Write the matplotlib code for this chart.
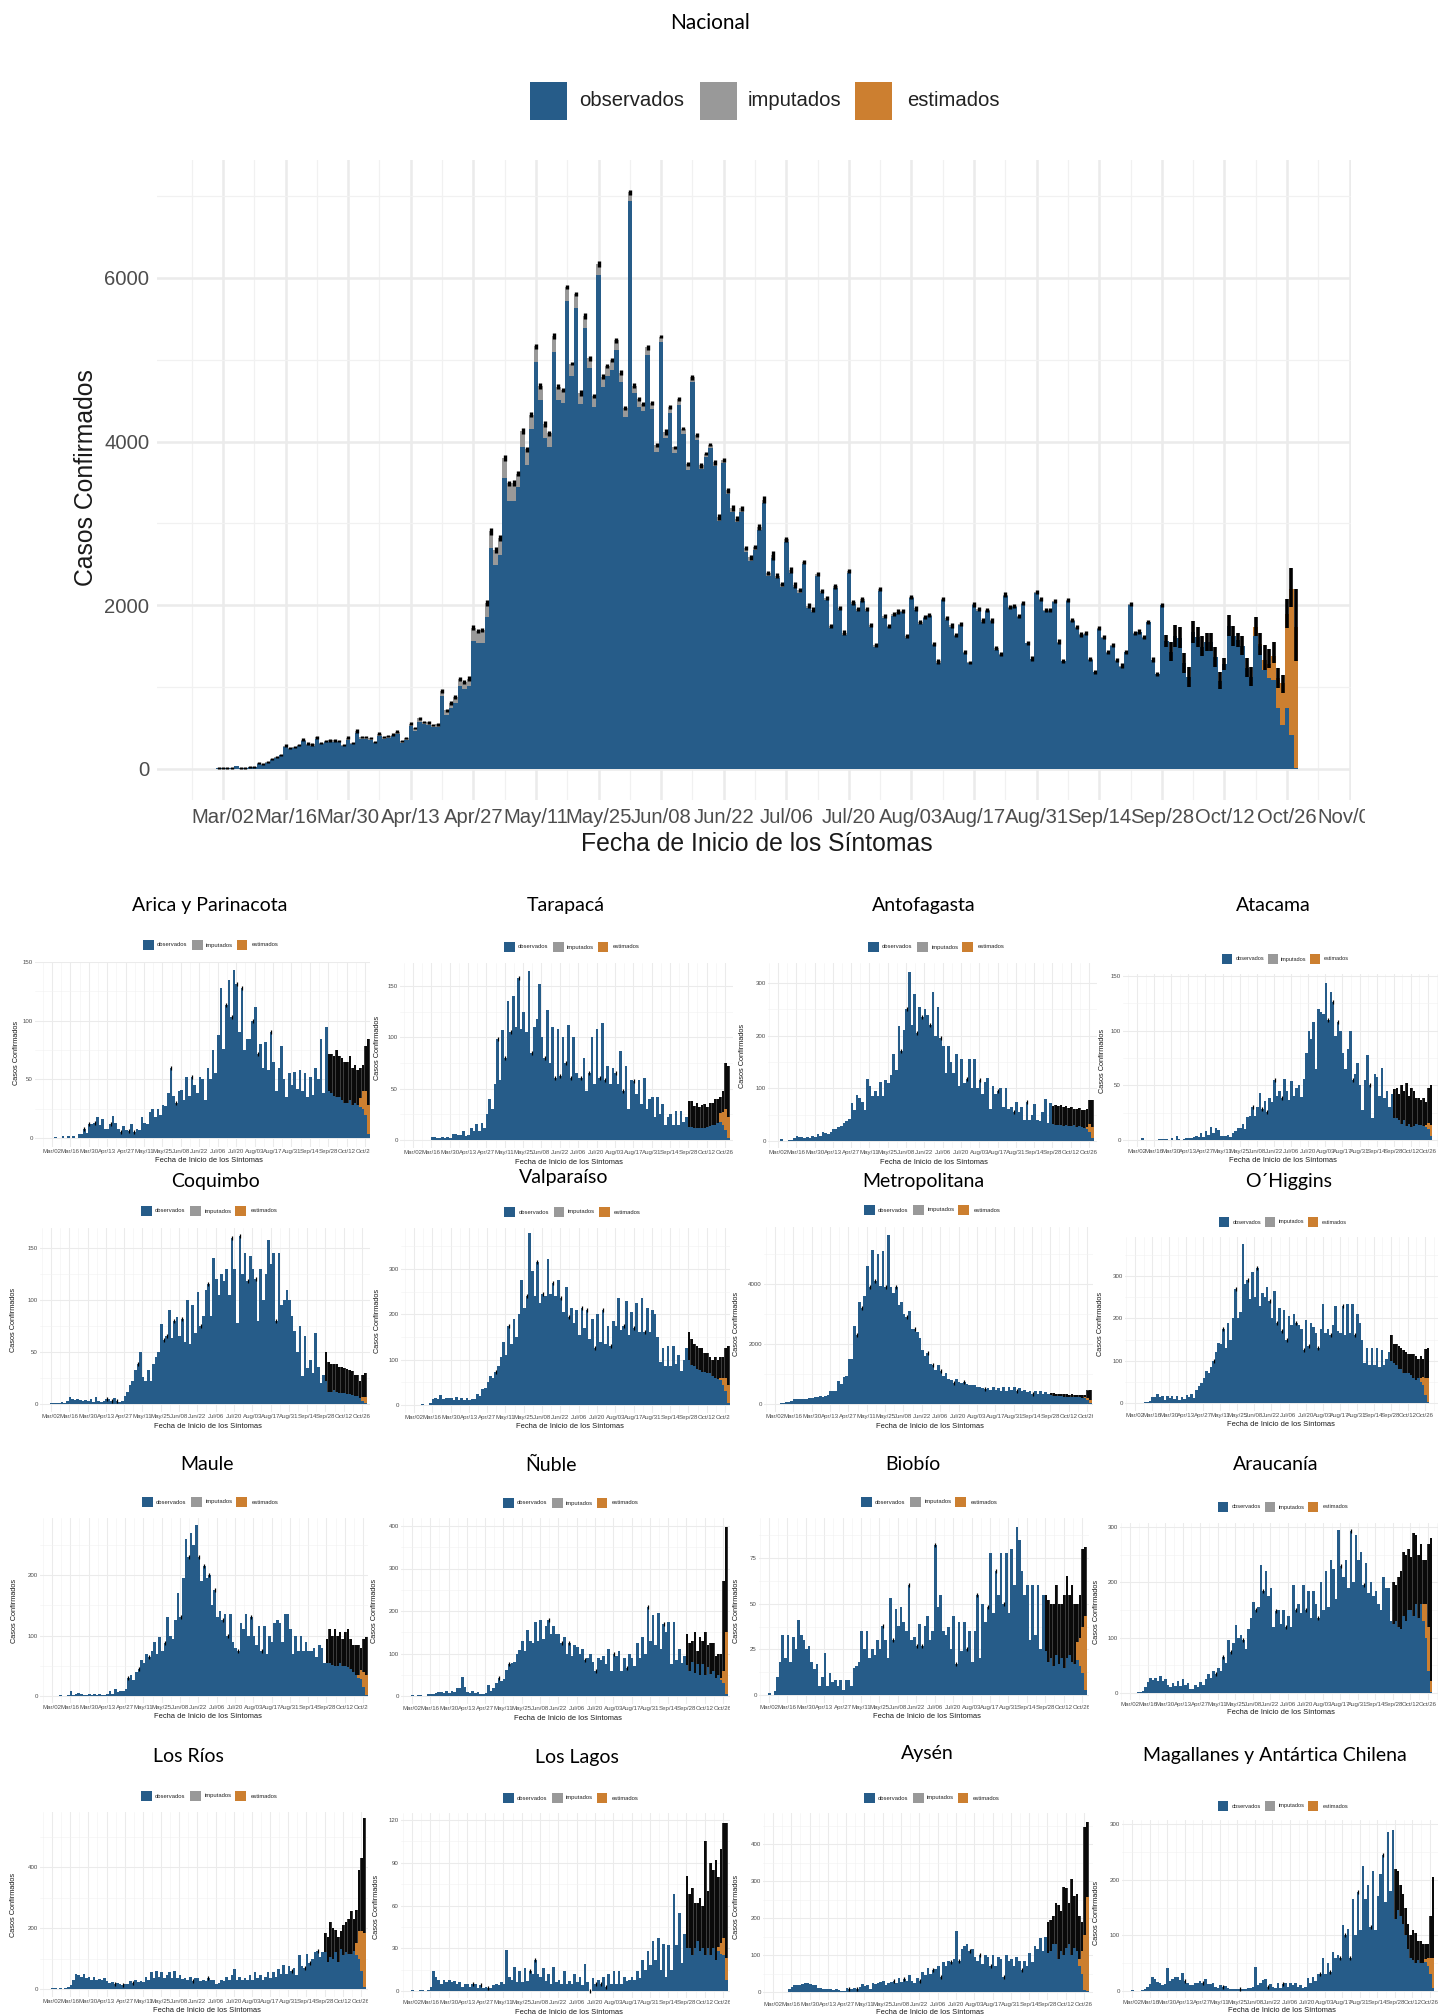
import numpy as np
import matplotlib
matplotlib.use('Agg')
import matplotlib.pyplot as plt
from matplotlib.patches import Rectangle
from matplotlib.transforms import Bbox

plt.rcParams['font.family'] = ['Liberation Sans', 'DejaVu Sans']

W, H = 1438, 2016
AZUL, GRIS, NARANJA = '#265c89', '#999999', '#cc7f30'

fechas = ['Mar/02', 'Mar/16', 'Mar/30', 'Apr/13', 'Apr/27', 'May/11', 'May/25', 'Jun/08', 'Jun/22', 'Jul/06',
          'Jul/20', 'Aug/03', 'Aug/17', 'Aug/31', 'Sep/14', 'Sep/28', 'Oct/12', 'Oct/26', 'Nov/09']
series = ['observados', 'imputados', 'estimados']

# Nacional: un valor por dia desde Mar/01
nac_total = [16, 10, 16, 16, 35, 16, 16, 30, 30, 70, 60, 80, 120, 150, 175,
             285, 260, 270, 295, 360, 310, 300, 390, 320, 340, 350, 350, 340, 290, 380, 315, 465, 390, 390, 375,
             330, 430, 390, 400, 420, 455, 345, 380, 555, 500, 620, 575, 570, 540, 545, 955, 715, 810, 880, 1100,
             1060, 1105, 1725, 1690, 1695, 2030, 2905, 2675, 2820, 3800, 3490, 3490, 3610, 4130, 3905, 4330, 5165,
             4680, 4215, 4100, 5290, 4670, 4635, 5890, 4955, 5805, 4595, 5540, 5020, 4555, 6170, 4795, 4920, 5000,
             5240, 4845, 4410, 7045, 4685, 4520, 4465, 5155, 4475, 3960, 5285, 4120, 4425, 3930, 4520, 4160, 3725,
             4785, 4080,
             3710, 3855, 3965, 3750, 3075, 3780, 3405, 3185, 3060, 3185, 2695, 2585, 2715, 2960, 3290, 2390, 2610,
             2360, 2260, 2805, 2430, 2250, 2185, 2530, 1995, 1945, 2380, 2180, 2085, 1750, 2235, 1970, 1665, 2420,
             2040, 1950, 2075, 1950, 1760, 1515, 2195, 1870, 1750, 1895, 1920, 1935, 1620, 2105, 1965, 1795, 1860,
             1880, 1530, 1315, 2075, 1840, 1755, 1635, 1770, 1435, 1305, 2015, 1950, 1815, 1945, 1820, 1475, 1405,
             2130, 1985, 1990, 1870, 2030, 1545, 1350, 2160, 2075, 1945, 1945, 2055, 1555, 1325, 2065, 1820, 1730,
             1645, 1665, 1340, 1190, 1720, 1610, 1430, 1515, 1335, 1260, 1435, 2015, 1665, 1680, 1610, 1800, 1335,
             1160, 2005,
             1560, 1430, 1630, 1600, 1290, 1120, 1670, 1610, 1490, 1550, 1550, 1370, 1080, 1280, 1750, 1620, 1580,
             1500, 1240, 1130, 1730, 1530, 1330, 1280, 1375, 1110, 1050, 1900, 2205, 1740]
nac_imp = [0, 0, 0, 0, 0, 0, 0, 5, 5, 8, 8, 8, 10, 10, 10,
           15, 15, 15, 15, 20, 15, 15, 20, 15, 15, 15, 15, 15, 15, 20, 15, 25, 20, 20, 20, 15, 25, 20, 20, 20,
           25, 25, 30, 35, 30, 40, 30, 30, 30, 30,
           60, 50, 60, 70, 85, 85, 85, 160, 150, 160, 170,
           200, 185, 200, 240, 210, 210, 170, 190, 190, 170, 195, 170, 170, 170, 195, 160, 160, 175, 150, 175,
           140, 150, 120, 130, 130, 130, 120, 120, 120, 110, 110, 100, 95, 100, 90, 100, 80, 90, 70, 80, 70, 70,
           70, 70, 70, 60, 60,
           50, 45, 45, 45, 45, 45, 45, 40, 40, 40, 40, 40, 40, 35, 35, 35, 35, 30, 30, 30, 30, 30, 30, 30, 25, 25,
           25, 25, 25, 25, 25, 25, 25, 25, 25, 20, 20, 20, 20, 20, 20, 20, 20, 20, 20, 20, 20, 20, 20, 20, 15, 15,
           15, 15, 15, 15, 15, 15, 15, 15, 15, 15, 15, 15, 15, 15, 15, 15, 15, 15, 10, 10, 10, 10, 10, 10, 10, 10,
           10, 10, 10, 10, 10, 10, 10, 10, 10, 10, 10, 10, 10, 10, 10, 10, 10, 10, 10, 10, 10, 10]
nac_est = [110, 30, 120, 170, 285, 365, 510, 1155, 1785, 1730]
nac_ic = [10, 10, 10, 10, 0, 10, 10, 12, 12, 12, 12, 12, 14, 14, 14, 16, 14, 14, 14, 16, 14, 14, 18, 14, 14, 14, 14,
          14, 14, 18, 14, 20, 14, 14, 14, 14, 18, 14, 14, 14, 16, 14, 14, 20, 16, 18, 16, 16, 16, 16, 24, 20, 22,
          26, 30, 26, 30, 30, 24, 26, 38, 40, 35, 36, 40, 28, 36, 28, 34, 35, 32, 30, 34, 38, 34, 32, 32, 24, 30,
          24, 30, 35, 36, 30, 26, 36, 32, 24, 24, 30, 30, 25, 30, 30, 24, 24, 30, 28, 26, 24, 35, 28, 22, 24, 22,
          28, 28, 28, 30, 24, 24, 30, 35, 25, 30, 35, 30, 30, 24, 30, 24, 35, 40, 25, 50, 30, 25, 30, 35, 40, 25,
          25, 30, 30, 25, 25, 25, 25, 30, 25, 30, 25, 30, 25, 30, 25, 25, 25, 25, 30, 25, 25, 30, 25, 25, 25, 30,
          20, 25, 25, 25, 30, 25, 25, 30, 25, 25, 25, 20, 30, 25, 25, 25, 30, 25, 25, 30, 25, 25, 25, 25, 25, 30,
          25, 25, 25, 25, 25, 30, 25, 25, 25, 25, 30, 25, 25, 25, 25, 25, 30, 25, 25, 30, 25, 25, 25, 25, 25, 25,
          30, 25, 25]
nac_lo = [1495, 1315, 1495, 1475, 1170, 1000, 1535, 1495, 1375, 1445, 1445, 1250, 975, 1210, 1620, 1505, 1495, 1395,
          1130, 1015, 1620, 1395, 1210, 1230, 1295, 990, 925, 1720, 1975, 1315]
nac_hi = [1640, 1555, 1760, 1740, 1415, 1250, 1810, 1740, 1620, 1665, 1665, 1490, 1190, 1355, 1880, 1750, 1665, 1625,
          1355, 1250, 1860, 1660, 1515, 1465, 1555, 1230, 1150, 2075, 2460, 2205]

# Regiones: un valor cada dos dias desde Mar/02
arica_obs = [0, 1, 0, 0, 2, 0, 2, 0, 2, 0, 3, 3, 8, 4, 12, 12, 13, 18, 11, 16, 8, 8, 12, 19, 13, 8, 5, 10, 7, 6, 12, 5, 8, 7, 18,
             13, 12, 22, 25, 18, 25, 20, 28, 27, 38, 60, 36, 30, 40, 41, 32, 52, 36, 52, 45, 38, 52, 50, 32, 60, 50, 75, 55,
             88, 128, 76, 113, 135, 103, 143, 131, 90, 128, 75, 84, 84, 100, 112, 72, 80, 60, 82, 58, 90, 65, 40, 60, 78, 50,
             35, 55, 45, 56, 42, 58, 40, 55, 35, 52, 37, 60, 50, 84, 38, 95,
             40, 38, 36, 35, 35, 32, 30, 30, 32, 28, 30, 28, 26, 25, 20, 3]
arica_hi = [72, 72, 70, 75, 70, 68, 65, 65, 70, 60, 62, 58, 60, 62, 78, 84]
arica_est = [8, 15, 20, 25]
arica_marcas = [12, 14, 16, 22, 26, 29, 31, 45, 47, 53, 66, 68, 70, 72, 76, 78, 83]

tarapaca_obs = [0, 0, 0, 0, 0, 0, 0, 3, 3, 2, 2, 3, 2, 3, 2, 6, 6, 5, 5, 9, 4, 5, 12, 9, 16, 9, 17, 12, 25, 40, 30, 55, 98, 58, 107,
                80, 135, 105, 140, 110, 158, 108, 125, 105, 165, 85, 110, 118, 152, 100, 80, 127, 75, 110, 60, 108, 62, 100,
                75, 112, 60, 100, 65, 60, 60, 80, 48, 65, 100, 55, 108, 60, 114, 58, 72, 55, 70, 65, 55, 87, 48, 72, 30, 58, 57,
                45, 58, 35, 60, 30, 40, 42, 22, 42, 25, 35, 15, 22, 25, 15, 28, 15, 28, 18, 22,
                13, 13, 12, 12, 12, 12, 12, 13, 14, 15, 15, 17, 18, 15, 10, 2]
tarapaca_hi = [38, 38, 33, 36, 32, 34, 35, 32, 36, 36, 40, 40, 42, 48, 75, 72]
tarapaca_est = [8, 12, 20, 20]
tarapaca_marcas = [32, 35, 37, 40, 45, 50, 54, 56, 58, 60, 64, 67, 71, 73, 77, 80, 84]

antofagasta_obs = [0, 3, 0, 0, 2, 2, 6, 9, 8, 7, 5, 8, 5, 10, 8, 14, 10, 18, 15, 14, 18, 22, 22, 26, 28, 35, 38, 42, 72, 58, 88, 82, 75,
                   58, 118, 105, 85, 95, 85, 112, 85, 115, 110, 125, 165, 135, 218, 170, 210, 250, 320, 220, 280, 205, 255,
                   235, 250, 240, 220, 282, 200, 255, 195, 180, 130, 180, 150, 130, 165, 105, 155, 110, 118, 155, 100, 155,
                   100, 115, 90, 112, 120, 60, 105, 90, 95, 100, 65, 100, 60, 65, 55, 75, 55, 65, 40, 75, 40, 50, 70, 40, 38, 55,
                   80, 35, 72,
                   32, 30, 30, 30, 28, 30, 28, 28, 30, 26, 28, 27, 25, 22, 18, 5]
antofagasta_hi = [66, 68, 66, 68, 65, 66, 62, 65, 60, 60, 62, 58, 58, 60, 78, 78]
antofagasta_est = [0, 5, 15, 22]
antofagasta_marcas = [47, 49, 53, 55, 58, 62, 72, 77, 84, 90, 95]

atacama_obs = [0, 0, 2, 0, 0, 0, 0, 0, 0, 1, 1, 1, 1, 0, 2, 0, 4, 1, 0, 1, 2, 2, 2, 3, 4, 3, 6, 3, 8, 5, 12, 6, 11, 9, 4, 4, 4, 5, 3, 6, 8,
               11, 11, 15, 10, 21, 22, 30, 22, 30, 43, 28, 36, 26, 38, 35, 55, 40, 45, 38, 56, 45, 37, 54, 40, 48, 50, 39, 56,
               80, 100, 92, 108, 65, 120, 117, 115, 144, 110, 135, 126, 95, 108, 100, 80, 65, 83, 100, 55, 60, 70, 50, 27, 55,
               78, 50, 20, 60, 58, 40, 66, 38, 45, 30, 42,
               20, 20, 18, 15, 18, 13, 15, 12, 13, 15, 14, 14, 13, 12, 10, 4]
atacama_hi = [47, 48, 42, 50, 45, 52, 40, 48, 45, 38, 38, 37, 38, 35, 48, 50]
atacama_est = [0, 2, 6, 10]
atacama_marcas = [47, 51, 53, 56, 59, 78, 80, 82, 88, 95]

coquimbo_obs = [1, 1, 1, 1, 2, 1, 3, 7, 5, 4, 5, 4, 3, 4, 3, 5, 2, 7, 3, 2, 3, 5, 5, 3, 6, 3, 2, 3, 8, 12, 18, 22, 33, 38, 50, 26, 22, 33,
                22, 38, 45, 50, 77, 62, 65, 90, 63, 80, 84, 65, 82, 60, 100, 58, 95, 68, 108, 75, 85, 110, 115, 85, 140, 120, 105,
                125, 118, 130, 105, 160, 130, 78, 162, 125, 145, 118, 142, 130, 120, 80, 130, 100, 125, 158, 135, 145, 80, 145,
                95, 100, 110, 100, 85, 70, 50, 75, 27, 65, 35, 42, 30, 68, 36, 20, 28,
                22, 12, 12, 13, 12, 11, 11, 11, 10, 10, 9, 8, 8, 6, 3, 1]
coquimbo_hi = [50, 40, 38, 38, 38, 36, 36, 35, 34, 33, 32, 28, 28, 22, 28, 30]
coquimbo_est = [0, 0, 4, 6]
coquimbo_marcas = [21, 23, 25, 33, 43, 44, 47, 50, 57, 60, 69, 72, 75, 78, 86]

valparaiso_obs = [1, 1, 1, 2, 1, 1, 4, 14, 16, 13, 23, 14, 15, 15, 16, 12, 17, 12, 16, 12, 15, 12, 14, 13, 25, 20, 35, 38, 50, 65, 60, 72,
                  85, 105, 140, 110, 175, 135, 190, 150, 200, 275, 215, 240, 380, 295, 240, 315, 225, 245, 240, 322, 245, 270,
                  240, 275, 235, 205, 260, 195, 215, 180, 210, 155, 215, 170, 210, 145, 190, 125, 200, 140, 210, 135, 175, 130,
                  185, 175, 235, 165, 175, 230, 155, 205, 170, 225, 160, 235, 160, 215, 160, 210, 200, 150, 95, 125, 85, 130, 85,
                  130, 90, 110, 75, 100, 125,
                  100, 88, 85, 80, 78, 72, 72, 70, 70, 65, 60, 58, 55, 45, 30, 5]
valparaiso_hi = [160, 145, 135, 130, 125, 125, 115, 115, 105, 100, 105, 100, 105, 105, 125, 130]
valparaiso_est = [5, 15, 30, 40]
valparaiso_marcas = [31, 36, 43, 47, 49, 53, 56, 59, 64, 66, 69, 72, 75, 80, 84, 88]

metropolitana_obs = [10, 15, 20, 40, 60, 80, 100, 180, 170, 175, 170, 175, 170, 200, 210, 230, 220, 270, 240, 270, 290, 420, 430, 430, 780,
                     680, 900, 950, 1500, 1500, 2600, 2300, 3400, 3200, 3600, 4600, 3900, 5150, 4100, 5000, 3950, 5100, 3900,
                     5650, 3900, 3700, 3900, 3300, 3400, 3000, 2900, 3100, 2500, 2500, 2400, 2200, 1800, 1600, 1700, 1350, 1300,
                     1150, 1300, 1100, 950, 1050, 850, 800, 700, 850, 750, 700, 720, 680, 650, 620, 640, 580, 560, 530, 500, 520,
                     470, 560, 480, 540, 450, 560, 450, 560, 480, 580, 450, 520, 430, 460, 400, 420, 350, 430, 350, 420, 340, 390,
                     320,
                     290, 280, 280, 260, 270, 250, 250, 240, 240, 230, 230, 220, 200, 190, 120, 20]
metropolitana_hi = [370, 360, 340, 340, 320, 330, 320, 310, 320, 300, 300, 310, 290, 290, 450, 480]
metropolitana_est = [0, 30, 90, 120]
metropolitana_marcas = [31, 33, 36, 38, 42, 46, 50, 53, 58, 60, 63, 68, 72, 80, 92, 98]

ohiggins_obs = [0, 1, 0, 1, 2, 3, 4, 14, 13, 22, 13, 16, 8, 16, 12, 17, 10, 17, 8, 15, 10, 18, 15, 22, 12, 30, 40, 48, 60, 75, 70, 85, 100,
                120, 142, 140, 175, 130, 190, 150, 200, 270, 200, 215, 375, 280, 290, 245, 310, 250, 320, 230, 260, 250, 275, 240,
                200, 265, 190, 225, 170, 220, 150, 205, 185, 210, 190, 185, 175, 125, 195, 135, 190, 180, 165, 130, 175, 235, 165,
                175, 160, 185, 230, 170, 165, 230, 160, 235, 165, 235, 160, 210, 190, 150, 95, 130, 90, 130, 90, 130, 85, 125, 90,
                105, 120,
                100, 95, 90, 80, 80, 72, 72, 70, 65, 60, 55, 58, 50, 42, 20, 3]
ohiggins_hi = [160, 140, 140, 135, 130, 125, 120, 115, 115, 115, 110, 105, 110, 105, 128, 130]
ohiggins_est = [10, 20, 40, 55]
ohiggins_marcas = [32, 36, 41, 46, 50, 55, 58, 60, 62, 66, 69, 71, 75, 80, 85, 90]

maule_obs = [0, 0, 0, 1, 0, 0, 1, 8, 2, 3, 5, 3, 2, 2, 3, 2, 3, 2, 3, 2, 2, 3, 9, 4, 11, 7, 9, 8, 12, 30, 35, 27, 40, 45, 60, 55, 70, 65, 75, 90,
             70, 97, 75, 88, 130, 100, 95, 125, 170, 130, 195, 260, 230, 270, 250, 283, 230, 190, 215, 195, 200, 150, 175, 130,
             140, 125, 135, 100, 135, 90, 80, 75, 120, 110, 135, 100, 130, 100, 85, 115, 75, 115, 70, 100, 90, 120, 125, 120, 90,
             135, 135, 110, 70, 100, 75, 100, 75, 90, 75, 75, 80, 65, 85, 80, 55,
             55, 55, 52, 50, 50, 55, 50, 50, 48, 45, 40, 35, 30, 28, 15, 2]
maule_hi = [95, 110, 100, 110, 100, 105, 95, 105, 110, 95, 85, 85, 85, 80, 95, 98]
maule_est = [5, 15, 25, 32]
maule_marcas = [29, 33, 37, 43, 49, 52, 56, 58, 60, 62, 65, 67, 71, 76, 80]

nuble_obs = [2, 0, 2, 2, 0, 1, 4, 5, 4, 7, 9, 10, 8, 11, 8, 11, 10, 18, 20, 45, 22, 10, 8, 12, 8, 10, 5, 4, 8, 25, 12, 20, 30, 42, 35, 40, 62,
             75, 78, 80, 100, 108, 130, 105, 155, 130, 125, 175, 130, 180, 135, 165, 180, 145, 165, 145, 145, 125, 140, 100, 125, 95,
             120, 115, 100, 110, 85, 90, 100, 80, 60, 90, 85, 95, 75, 110, 60, 100, 95, 105, 60, 90, 65, 100, 90, 70, 125, 90, 140,
             100, 210, 130, 190, 120, 195, 110, 170, 150, 175, 75, 175, 85, 110, 78, 95,
             72, 60, 80, 55, 75, 50, 75, 50, 68, 52, 58, 42, 50, 38, 30, 5]
nuble_hi = [145, 125, 130, 150, 105, 140, 130, 150, 120, 125, 125, 95, 100, 100, 270, 398]
nuble_est = [0, 5, 30, 145]
nuble_marcas = [33, 37, 52, 57, 60, 66, 70, 77, 82, 90, 96]

biobio_obs = [1, 0, 2, 10, 18, 33, 20, 33, 18, 32, 25, 41, 33, 30, 25, 27, 18, 14, 17, 5, 10, 23, 5, 12, 7, 8, 5, 8, 3, 8, 8, 5, 15, 16, 18, 35,
              25, 35, 20, 25, 22, 30, 25, 38, 30, 20, 53, 30, 47, 38, 48, 40, 35, 60, 30, 32, 27, 39, 27, 38, 43, 30, 35, 82, 48, 55, 35,
              33, 37, 25, 43, 17, 40, 24, 40, 25, 35, 18, 35, 55, 20, 50, 40, 48, 78, 45, 68, 55, 78, 50, 78, 45, 80, 60, 92, 85, 68, 55,
              60, 30, 60, 33, 60, 25, 55,
              24, 18, 20, 16, 22, 17, 20, 15, 20, 22, 18, 17, 19, 16, 12, 3]
biobio_hi = [55, 52, 50, 50, 60, 50, 50, 55, 65, 55, 60, 50, 50, 55, 80, 81]
biobio_est = [10, 15, 25, 40]
biobio_marcas = [43, 47, 53, 56, 58, 63, 71, 75, 79, 83, 86, 89]

araucania_obs = [0, 0, 0, 1, 2, 4, 10, 20, 27, 24, 28, 22, 30, 22, 25, 15, 10, 18, 12, 22, 12, 25, 15, 18, 8, 8, 15, 10, 20, 15, 25, 35, 28, 40,
                 35, 45, 40, 65, 55, 95, 75, 90, 122, 100, 105, 95, 80, 115, 135, 165, 150, 155, 232, 185, 220, 175, 190, 120, 148,
                 150, 125, 150, 120, 140, 120, 195, 150, 160, 145, 195, 150, 185, 135, 185, 160, 135, 200, 150, 220, 155, 240, 225,
                 170, 295, 230, 210, 240, 190, 292, 200, 285, 240, 255, 195, 235, 180, 200, 175, 185, 160, 150, 210, 190, 190, 130,
                 125, 130, 120, 115, 140, 130, 150, 150, 140, 160, 135, 160, 130, 100, 40, 2]
araucania_hi = [200, 195, 210, 220, 255, 250, 260, 245, 290, 285, 250, 270, 240, 240, 270, 280]
araucania_est = [30, 60, 80, 20]
araucania_marcas = [34, 37, 40, 45, 50, 53, 58, 62, 66, 70, 75, 84, 88, 93]

los_rios_obs = [2, 2, 1, 2, 1, 3, 6, 12, 28, 48, 45, 40, 48, 35, 38, 30, 38, 28, 32, 28, 35, 25, 20, 22, 16, 20, 15, 14, 15, 18, 25, 20, 28, 22, 25,
                22, 40, 30, 55, 35, 58, 38, 55, 35, 45, 55, 35, 58, 35, 45, 32, 35, 28, 38, 25, 35, 35, 25, 30, 25, 35, 28, 30, 18, 20, 30,
                25, 40, 28, 45, 65, 30, 40, 28, 35, 30, 45, 30, 55, 35, 45, 30, 38, 55, 35, 55, 40, 65, 50, 80, 50, 75, 60, 70, 45, 110,
                75, 70, 115, 85, 100, 120, 125, 105, 120,
                120, 90, 105, 100, 120, 90, 130, 110, 120, 115, 115, 125, 110, 100, 60, 5]
los_rios_hi = [185, 170, 220, 200, 195, 170, 190, 210, 220, 230, 255, 230, 260, 390, 430, 560]
los_rios_est = [40, 90, 130, 180]
los_rios_marcas = [24, 27, 31, 54, 60, 92, 97, 99, 102]

los_lagos_obs = [1, 0, 0, 1, 1, 0, 1, 3, 14, 10, 8, 5, 8, 6, 8, 6, 7, 5, 6, 3, 5, 5, 3, 5, 5, 2, 4, 2, 3, 2, 2, 4, 5, 4, 6, 5, 29, 10, 8, 17, 6, 14, 6,
                 16, 7, 14, 12, 22, 12, 10, 16, 7, 12, 5, 17, 6, 8, 5, 14, 5, 7, 5, 12, 6, 10, 4, 19, 6, 0, 9, 5, 8, 5, 10, 3, 12, 5, 14, 5, 14, 5,
                 10, 7, 8, 10, 8, 14, 9, 22, 15, 28, 18, 35, 22, 37, 15, 33, 10, 32, 15, 68, 32, 55, 20, 40,
                 30, 30, 25, 30, 35, 28, 30, 25, 30, 25, 30, 22, 28, 26, 25, 8]
los_lagos_hi = [81, 68, 72, 62, 62, 65, 60, 105, 70, 90, 85, 92, 80, 100, 118, 118]
los_lagos_est = [3, 8, 12, 15]
los_lagos_marcas = [23, 26, 29, 45, 47, 68, 70, 72, 74]

aysen_obs = [0, 1, 0, 1, 1, 1, 8, 14, 18, 20, 20, 22, 24, 25, 22, 18, 20, 12, 12, 8, 8, 7, 8, 6, 8, 6, 3, 4, 10, 8, 7, 10, 9, 14, 22, 15, 18, 7, 25,
             22, 25, 28, 30, 20, 25, 28, 30, 25, 38, 28, 35, 30, 45, 30, 25, 38, 30, 55, 45, 65, 50, 60, 62, 70, 40, 80, 70, 85, 80, 90,
             165, 85, 115, 125, 130, 110, 115, 95, 85, 100, 75, 100, 95, 70, 100, 70, 95, 88, 40, 100, 85, 90, 70, 95, 85, 60, 85, 70,
             105, 80, 125, 115, 145, 110, 150,
             105, 110, 130, 130, 90, 110, 100, 120, 130, 100, 120, 110, 70, 50, 5, 3]
aysen_hi = [190, 195, 205, 240, 235, 220, 285, 280, 240, 305, 260, 265, 205, 190, 445, 460]
aysen_est = [20, 60, 150, 255]
aysen_marcas = [29, 32, 46, 50, 56, 61, 64, 68, 71, 75, 79, 83, 88, 95]

magallanes_obs = [1, 0, 0, 0, 1, 3, 8, 12, 25, 22, 17, 15, 10, 12, 42, 18, 22, 25, 26, 20, 32, 18, 15, 11, 10, 15, 15, 18, 15, 22, 12, 12, 14, 8, 5,
                  10, 8, 9, 6, 4, 3, 4, 4, 3, 4, 3, 5, 6, 8, 43, 10, 15, 20, 22, 8, 12, 8, 5, 15, 5, 12, 14, 8, 15, 10, 15, 8, 10, 5, 8, 24, 15,
                  25, 18, 30, 30, 60, 30, 50, 35, 70, 60, 65, 60, 118, 100, 112, 60, 165, 100, 178, 110, 225, 165, 190, 115, 215, 110,
                  170, 210, 245, 160, 285, 180, 290,
                  130, 145, 135, 120, 100, 75, 60, 55, 50, 55, 50, 50, 52, 45, 30, 5]
magallanes_hi = [220, 215, 190, 175, 150, 120, 100, 110, 105, 90, 90, 85, 85, 85, 135, 205]
magallanes_est = [5, 15, 30, 55]
magallanes_marcas = [21, 28, 36, 43, 54, 60, 75, 79, 83, 85, 87, 90, 95, 100]

regiones = [
    ('Arica y Parinacota', arica_obs, arica_hi, arica_est, arica_marcas),
    ('Tarapacá', tarapaca_obs, tarapaca_hi, tarapaca_est, tarapaca_marcas),
    ('Antofagasta', antofagasta_obs, antofagasta_hi, antofagasta_est, antofagasta_marcas),
    ('Atacama', atacama_obs, atacama_hi, atacama_est, atacama_marcas),
    ('Coquimbo', coquimbo_obs, coquimbo_hi, coquimbo_est, coquimbo_marcas),
    ('Valparaíso', valparaiso_obs, valparaiso_hi, valparaiso_est, valparaiso_marcas),
    ('Metropolitana', metropolitana_obs, metropolitana_hi, metropolitana_est, metropolitana_marcas),
    ('O´Higgins', ohiggins_obs, ohiggins_hi, ohiggins_est, ohiggins_marcas),
    ('Maule', maule_obs, maule_hi, maule_est, maule_marcas),
    ('Ñuble', nuble_obs, nuble_hi, nuble_est, nuble_marcas),
    ('Biobío', biobio_obs, biobio_hi, biobio_est, biobio_marcas),
    ('Araucanía', araucania_obs, araucania_hi, araucania_est, araucania_marcas),
    ('Los Ríos', los_rios_obs, los_rios_hi, los_rios_est, los_rios_marcas),
    ('Los Lagos', los_lagos_obs, los_lagos_hi, los_lagos_est, los_lagos_marcas),
    ('Aysén', aysen_obs, aysen_hi, aysen_est, aysen_marcas),
    ('Magallanes y Antártica Chilena', magallanes_obs, magallanes_hi, magallanes_est, magallanes_marcas),
]

# Posicion de cada panel, en pixeles de la figura:
# titulo (x, y), leyenda (x0, x1, y), etiqueta y (x, y), ejes (izq, der, arriba, abajo),
# x de Mar/02 y Oct/26, y del cero, y de una marca, valor de esa marca, marcas y, y etiqueta x (x, y)
paneles = [
    ((210, 906), (143, 278, 945), (16, 1053), (35, 370, 962, 1147), (52, 365), (1138, 962, 150), [0, 50, 100, 150], (209, 1160)),
    ((566, 906), (504, 639, 947), (378, 1048), (400, 733, 963, 1148), (413, 725), (1140, 986, 150), [0, 50, 100, 150], (569, 1162)),
    ((924, 906), (868, 1004, 947), (742, 1056), (768, 1097, 963, 1148), (778, 1089), (1141, 983, 300), [0, 100, 200, 300], (934, 1162)),
    ((1273, 905), (1222, 1349, 959), (1103, 1061), (1123, 1438, 974, 1147), (1137, 1428), (1140, 976, 150), [0, 50, 100, 150], (1283, 1160)),
    ((216, 1182), (141, 277, 1211), (14, 1320), (40, 370, 1228, 1412), (51, 362), (1404, 1248, 150), [0, 50, 100, 150], (208, 1427)),
    ((564, 1178), (504, 641, 1212), (378, 1321), (401, 730, 1228, 1413), (414, 725), (1405, 1269, 300), [0, 100, 200, 300], (570, 1427)),
    ((923, 1181), (864, 1000, 1210), (736, 1324), (764, 1093, 1227, 1412), (775, 1087), (1404, 1284, 4000), [0, 2000, 4000], (930, 1426)),
    ((1289, 1181), (1219, 1347, 1222), (1101, 1324), (1125, 1438, 1237, 1411), (1135, 1425), (1403, 1276, 300), [0, 100, 200, 300], (1281, 1424)),
    ((207, 1464), (142, 278, 1502), (15, 1611), (40, 368, 1518, 1703), (52, 363), (1696, 1575, 200), [0, 100, 200], (208, 1717)),
    ((551, 1465), (503, 638, 1503), (375, 1611), (401, 730, 1518, 1704), (412, 723), (1696, 1526, 400), [0, 100, 200, 300, 400], (568, 1718)),
    ((913, 1465), (861, 997, 1502), (736, 1611), (759, 1089, 1518, 1703), (769, 1082), (1695, 1558, 75), [0, 25, 50, 75], (927, 1717)),
    ((1276, 1465), (1218, 1348, 1507), (1097, 1612), (1120, 1438, 1523, 1700), (1130, 1428), (1693, 1527, 300), [0, 100, 200, 300], (1281, 1713)),
    ((188, 1757), (141, 277, 1796), (14, 1905), (40, 368, 1812, 1997), (52, 361), (1989, 1867, 400), [0, 200, 400], (207, 2011)),
    ((577, 1757), (503, 638, 1798), (376, 1907), (401, 730, 1813, 1998), (412, 723), (1991, 1820, 120), [0, 30, 60, 90, 120], (569, 2012)),
    ((927, 1754), (864, 999, 1798), (737, 1907), (763, 1093, 1813, 2000), (773, 1084), (1992, 1844, 400), [0, 100, 200, 300, 400], (930, 2012)),
    ((1275, 1755), (1218, 1348, 1806), (1097, 1913), (1122, 1438, 1820, 1998), (1132, 1430), (1991, 1824, 300), [0, 100, 200, 300], (1282, 2011)),
]


def crear_ejes(fig, izq, der, arriba, abajo):
    return fig.add_axes([izq / W, 1 - abajo / H, (der - izq) / W, (abajo - arriba) / H])


def leyenda(fig, x0, x1, yc):
    esc = (x1 - x0) / 469
    lado = 37 * esc
    for nombre, color, xc, xt in zip(series, [AZUL, GRIS, NARANJA], [0, 170, 325], [49, 218, 377]):
        fig.add_artist(Rectangle(((x0 + xc * esc) / W, 1 - (yc + lado / 2) / H), lado / W, lado / H,
                                 transform=fig.transFigure, fc=color, ec='none'))
        fig.text((x0 + xt * esc) / W, 1 - yc / H, nombre, fontsize=14.6 * esc, color='#222222', va='center', ha='left')


def preparar(ax, caja, xs, ys, marcas_y, tam, pad, grosor, fechas_x, ultima):
    izq, der, arriba, abajo = caja
    dia = 238 / (xs[1] - xs[0])
    uni = ys[2] / (ys[0] - ys[1])
    for s in ax.spines.values():
        s.set_visible(False)
    ax.set_axisbelow(True)
    paso = marcas_y[1] - marcas_y[0]
    ax.set_yticks(marcas_y)
    ax.set_yticks([v + paso / 2 for v in marcas_y], minor=True)
    ax.set_xticks([14 * i for i in range(len(fechas_x))])
    ax.set_xticklabels(fechas_x)
    ax.set_xticks([7 + 14 * i for i in range(-1, len(fechas_x))], minor=True)
    ax.set_xlim((izq - xs[0]) * dia, (der - xs[0]) * dia)
    ax.set_ylim((ys[0] - abajo) * uni, (ys[0] - arriba) * uni)
    ax.grid(True, which='major', color='#ebebeb', lw=grosor)
    ax.grid(True, which='minor', color='#f1f1f1', lw=grosor / 2)
    ax.tick_params(which='both', length=0)
    ax.tick_params(axis='both', which='major', labelsize=tam, labelcolor='#4d4d4d', pad=pad)
    caja_clip = Bbox.from_extents(0, 0, ultima, H)
    for lab in ax.get_xticklabels():
        lab.set_clip_on(True)
        lab.set_clip_box(caja_clip)


fig = plt.figure(figsize=(W / 100, H / 100), dpi=100, facecolor='white')

# Panel nacional
fig.text(710 / W, 1 - 23 / H, 'Nacional', fontsize=15, family=['Lato', 'DejaVu Sans'], ha='center', va='center')
leyenda(fig, 530, 999, 101)
ax = crear_ejes(fig, 157, 1351, 160, 800)
preparar(ax, (157, 1351, 160, 800), (223, 1287), (769, 278, 6000), [0, 2000, 4000, 6000], 14.6, 5.5, 1.8, fechas, 1365)

total = np.array(nac_total, dtype=float)
imp = np.zeros(len(total))
imp[:len(nac_imp)] = nac_imp
est = np.zeros(len(total))
est[-len(nac_est):] = nac_est
obs = total - imp - est
x = np.arange(len(total)) - 1
ax.bar(x, obs, width=1, color=AZUL, lw=0)
ax.bar(x, imp, width=1, bottom=obs, color=GRIS, lw=0)
ax.bar(x, est, width=1, bottom=obs + imp, color=NARANJA, lw=0)
n_ic = len(nac_ic)
ic = np.array(nac_ic, dtype=float)
ax.vlines(x[:n_ic], total[:n_ic] - ic, total[:n_ic] + ic, color='black', lw=2.4)
ax.vlines(x[n_ic:], nac_lo, nac_hi, color='black', lw=2.6)
fig.text(86 / W, 1 - 478 / H, 'Casos Confirmados', fontsize=17.8, rotation=90, ha='center', va='center', color='#1a1a1a')
fig.text(757 / W, 1 - 844 / H, 'Fecha de Inicio de los Síntomas', fontsize=17.8, ha='center', va='center', color='#1a1a1a')

# Paneles regionales
for (nombre, r_obs, r_hi, r_est, r_marcas), p in zip(regiones, paneles):
    titulo, ley, ylab, caja, xs, ys, marcas_y, xlab = p
    fig.text(titulo[0] / W, 1 - titulo[1] / H, nombre, fontsize=14, family=['Lato', 'DejaVu Sans'],
             ha='center', va='center')
    leyenda(fig, *ley)
    ax = crear_ejes(fig, *caja)
    preparar(ax, caja, xs, ys, marcas_y, 4.4, 1.5, 0.75, fechas[:-1], caja[1])

    o = np.array(r_obs, dtype=float)
    e = np.zeros(len(o))
    e[-len(r_est):] = r_est
    xb = 2 * np.arange(len(o)) + 0.5
    ax.bar(xb, o, width=2, color=AZUL, lw=0)
    ax.bar(xb, e, width=2, bottom=o, color=NARANJA, lw=0)

    cola = len(o) - len(r_hi)
    base = (o + e)[cola:]
    ax.bar(xb[cola:], np.array(r_hi) - base, width=2, bottom=base, color='#3c3c3c', lw=0)
    ax.vlines(xb[cola:], base, r_hi, color='black', lw=1.2)

    med = ys[2] / (ys[0] - ys[1]) * 2
    ax.vlines(xb[r_marcas], o[r_marcas] - med, o[r_marcas] + med, color='black', lw=0.9)

    fig.text(ylab[0] / W, 1 - ylab[1] / H, 'Casos Confirmados', fontsize=5.3, rotation=90, ha='center', va='center', color='#1a1a1a')
    fig.text(xlab[0] / W, 1 - xlab[1] / H, 'Fecha de Inicio de los Síntomas', fontsize=5.4, ha='center', va='center', color='#1a1a1a')

fig.savefig('out.png', dpi=100)
